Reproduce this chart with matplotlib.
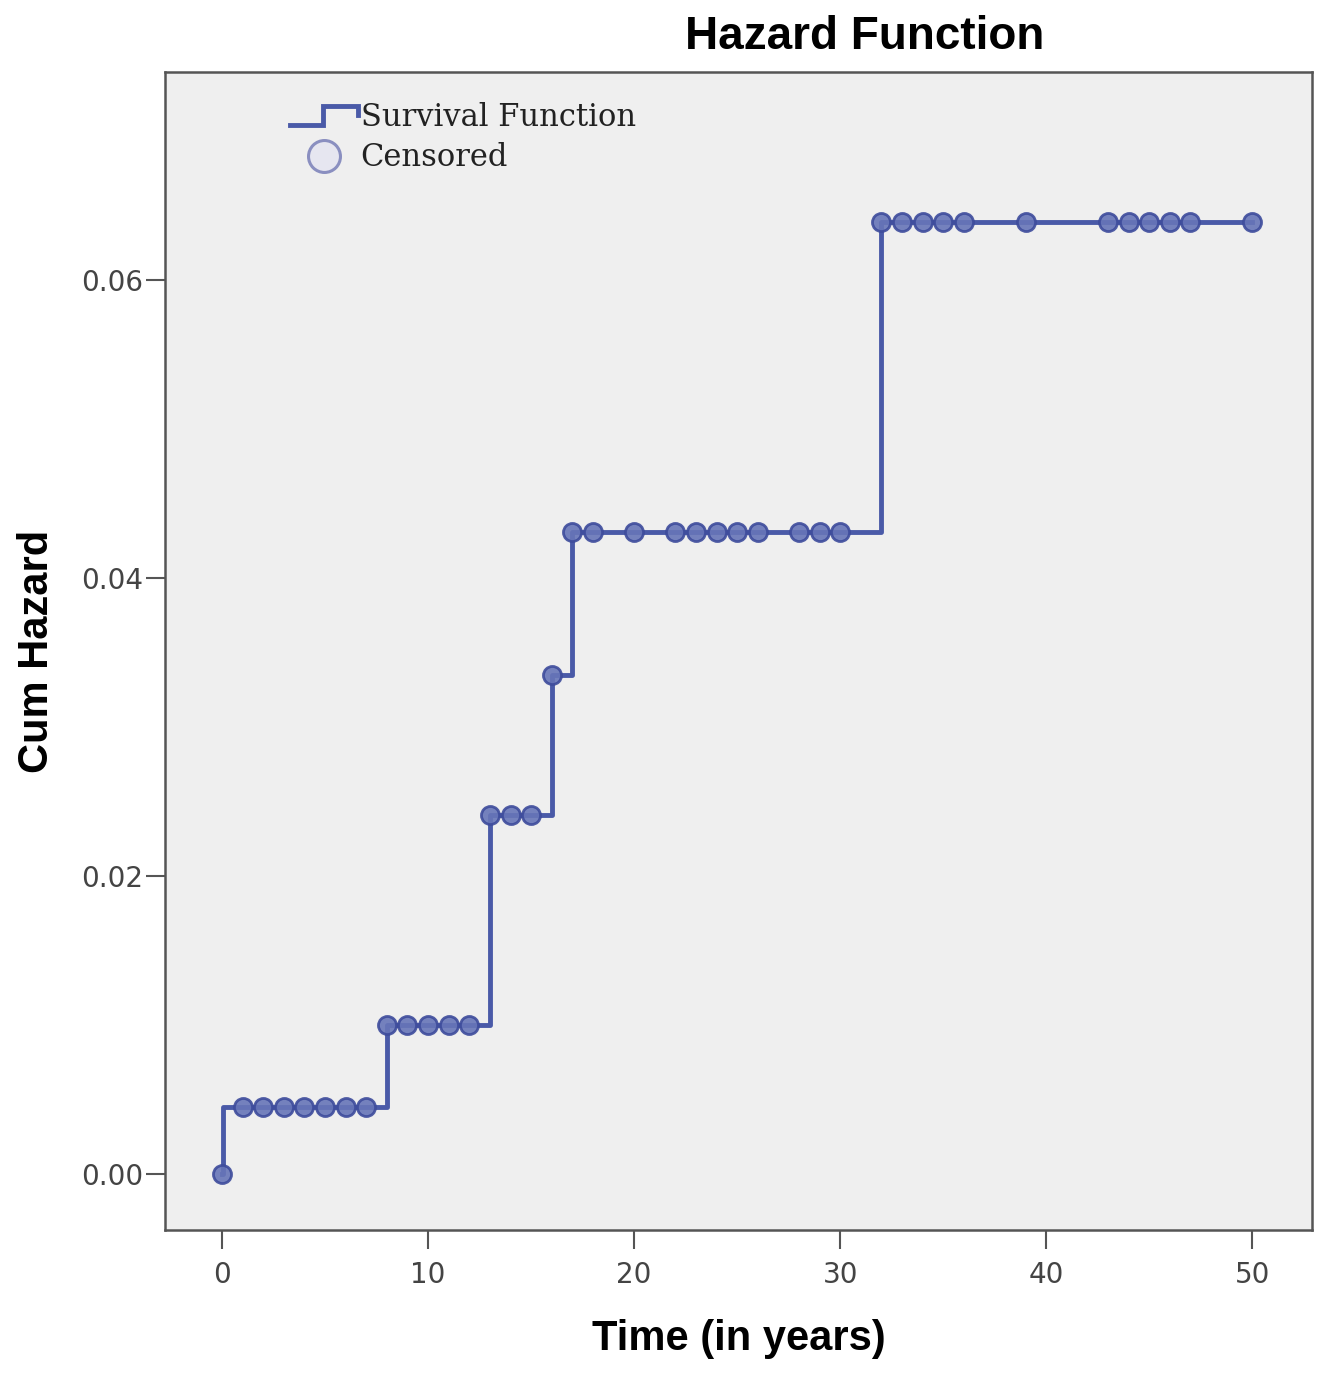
import numpy as np
import matplotlib
matplotlib.use("Agg")
import matplotlib.pyplot as plt
from matplotlib.lines import Line2D
from matplotlib.legend_handler import HandlerBase

# step function of the cumulative hazard
event_times = [0.05, 8, 13, 16, 17, 32]
cum_hazard = [0.0045, 0.0100, 0.0241, 0.0335, 0.0431, 0.0639]
end_time = 50

# censored cases (time in years)
censored_times = [0, 1, 2, 3, 4, 5, 6, 7,
                  8, 9, 10, 11, 12,
                  13, 14, 15,
                  16,
                  17, 18, 20, 22, 23, 24, 25, 26, 28, 29, 30,
                  32, 33, 34, 35, 36, 39, 43, 44, 45, 46, 47, 50]

x_ticks = [0, 10, 20, 30, 40, 50]
y_ticks = [0.00, 0.02, 0.04, 0.06]

line_col = "#4a5aa8"


class StepHandler(HandlerBase):
    # little step icon for the legend, like SPSS draws it
    def create_artists(self, legend, orig_handle, xdescent, ydescent,
                       width, height, fontsize, trans):
        xs = np.array([0.0, 0.48, 0.48, 1.0, 1.0]) * width - xdescent
        ys = np.array([0.05, 0.05, 0.95, 0.95, 0.55]) * height - ydescent
        ln = Line2D(xs, ys, color=line_col, lw=3.5, transform=trans,
                    solid_joinstyle="miter")
        return [ln]


fig = plt.figure(figsize=(13.2, 13.73), dpi=100)
ax = fig.add_axes([0.125, 0.1041, 0.8689, 0.8435])
ax.set_facecolor("#efefef")

xs = np.r_[0, event_times, end_time]
ys = np.r_[0, cum_hazard, cum_hazard[-1]]
ax.step(xs, ys, where="post", color=line_col, lw=3.5, zorder=2)

# hazard value at each censored time
idx = np.searchsorted(event_times, censored_times, side="right")
cens_y = np.r_[0, cum_hazard][idx]
ax.plot(censored_times, cens_y, "o", ms=13, mfc="#6775b8", mec="#3e4c9c",
        mew=2, alpha=0.9, zorder=3)

ax.set_xlim(-2.77, 52.9)
ax.set_ylim(-0.00376, 0.07396)
ax.set_xticks(x_ticks)
ax.set_xticklabels([str(t) for t in x_ticks])
ax.set_yticks(y_ticks)
ax.set_yticklabels(["%.2f" % v for v in y_ticks])
ax.tick_params(length=14, width=1.5, color="#555555", labelsize=20,
               labelcolor="#444444")
ax.tick_params(axis="y", pad=2)
ax.tick_params(axis="x", pad=8)
for s in ax.spines.values():
    s.set_color("#555555")
    s.set_linewidth(1.8)

ax.set_xlabel("Time (in years)", fontsize=30, fontweight="bold",
              family="Liberation Sans", labelpad=22)
ax.set_ylabel("Cum Hazard", fontsize=30, fontweight="bold",
              family="Liberation Sans", labelpad=17)
fig.text(0.655, 0.973, "Hazard Function", fontsize=33, fontweight="bold",
         family="Liberation Sans", ha="center", va="center")

step_handle = Line2D([], [], color=line_col)
cens_handle = Line2D([], [], ls="none", marker="o", ms=23, mfc="#e6e6f0",
                     mec="#8a8fc0", mew=2.2)
leg = ax.legend([step_handle, cens_handle], ["Survival Function", "Censored"],
                handler_map={step_handle: StepHandler()},
                loc="upper left", bbox_to_anchor=(0.096, 0.987),
                frameon=False, handlelength=2.2, handletextpad=0.1,
                labelspacing=0.3, borderpad=0,
                prop={"family": "DejaVu Serif", "size": 22})
for t in leg.get_texts():
    t.set_color("#222222")

fig.savefig("out.png", dpi=100, facecolor="white")
